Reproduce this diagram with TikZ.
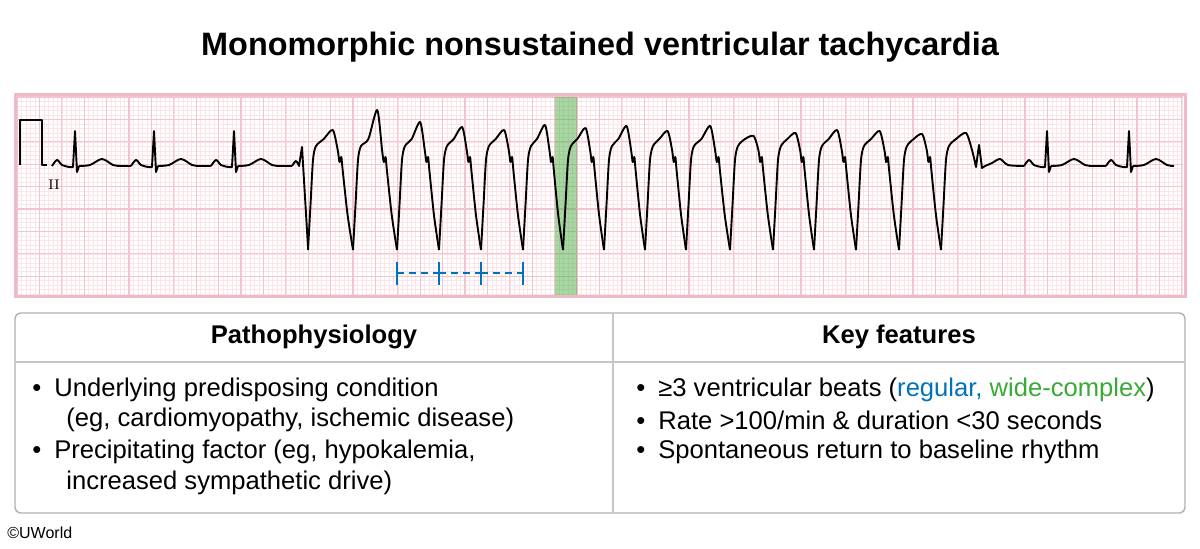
\documentclass[tikz,border=0pt]{standalone}
\usepackage{fontspec}
\setmainfont{Liberation Sans}
\begin{document}
\begin{tikzpicture}[x=0.5pt,y=-0.5pt,
  ecg/.style={black,line width=0.95pt,line join=round},
  minorl/.style={draw={rgb,255:red,252;green,228;blue,233},line width=0.25pt},
  majorl/.style={draw={rgb,255:red,242;green,196;blue,206},line width=0.6pt},
  body/.style={font=\fontsize{12.8}{15}\selectfont,anchor=west,inner sep=0},
  head/.style={font=\bfseries\fontsize{12.8}{15}\selectfont,inner sep=0}]
\definecolor{kblue}{RGB}{0,114,188}
\definecolor{kgreen}{RGB}{57,170,53}
\useasboundingbox[fill=white] (0,0) rectangle (1200,549);
\node[font=\bfseries\fontsize{16.2}{19}\selectfont] (title) at (600,47) {Monomorphic nonsustained ventricular tachycardia};
% grid
\foreach \i in {0,...,260} {\draw[minorl] ({17+4.48*\i},97) -- ({17+4.48*\i},295);}
\foreach \j in {0,...,44} {\draw[minorl] (17,{97+4.48*\j}) -- (1183,{97+4.48*\j});}
\foreach \i in {0,...,52} {\draw[majorl] ({17+22.4*\i},97) -- ({17+22.4*\i},295);}
\foreach \j in {0,...,8} {\draw[majorl] (17,{97+22.4*\j}) -- (1183,{97+22.4*\j});}
\draw[draw={rgb,255:red,238;green,186;blue,198},line width=1.5pt] (15,95) rectangle (1185,297);
% green band
\fill[kgreen,opacity=0.45] (555,97) rectangle (577,295);
% calibration
\draw[ecg] (20,165) -- (20,120) -- (42,120) -- (42,165) -- (47,165);
\node[font=\fontfamily{lmr}\selectfont\fontsize{7}{8}\selectfont,inner sep=0] (lead) at (54,185) {II};
% normal beats
\foreach \r in {75,154,234,1047,1129} {
  \draw[ecg] plot[smooth,tension=0.5] coordinates {({\r-23},166) ({\r-18},160) ({\r-13},165) ({\r-6},167) ({\r-2},167)}
    -- (\r,131) -- ({\r+2},172) -- ({\r+4},166);
  \draw[ecg] plot[smooth,tension=0.5] coordinates {({\r+4},166) ({\r+15},165) ({\r+27},159) ({\r+38},165) ({\r+45},166)};
}
\draw[ecg] (120,166) -- (131,166);
\draw[ecg] (199,166) -- (211,166);
\draw[ecg] (279,166) -- (292,166);
\draw[ecg] (1092,166) -- (1106,166);
\draw[ecg] plot[smooth,tension=0.5] coordinates {(292,166) (296,161) (299,166)} -- (302,147) -- (308,247);
\draw[ecg] (1174,166) -- (1170,166);
% VT
\foreach \a/\b/\p in {308/353/130,353/397/110,397/439/122,439/481/127,481/523/130,523/563/125,563/604/128,604/645/126,645/686/131,686/730/126,730/773/136,773/814/133,814/856/130,856/899/131,899/941/134} {
  \draw[ecg] plot[smooth,tension=0.45] coordinates {(\a,250) ({\a+2.5},205) ({\a+5},160) ({\a+8},146) ({\a+0.35*(\b-\a)},139) ({\a+0.55*(\b-\a)},\p) ({\a+0.66*(\b-\a)},150) ({\a+0.7*(\b-\a)},162) ({\a+0.74*(\b-\a)},157) ({\a+0.77*(\b-\a)},170) ({\a+0.88*(\b-\a)},215) (\b,250)};
}
\draw[ecg] plot[smooth,tension=0.45] coordinates {(941,250) (943.5,205) (946,160) (949,146) (956,139) (966,133) (972,150) (976,167)} -- (979,145) -- (982,168) -- (985,166);
\draw[ecg] plot[smooth,tension=0.5] coordinates {(985,166) (992,163) (1000,159) (1008,165) (1024,166)};
% blue bracket
\foreach \x/\n in {397/t1,439/t2,481/t3,523/t4} {\coordinate (\n) at (\x,273); \draw[kblue,line width=1.3pt] (\x,262) -- (\x,285);}
\draw[kblue,line width=1.3pt,dash pattern=on 3.5pt off 2.5pt] (t1) -- (t2) (t2) -- (t3) (t3) -- (t4);
% table
\draw[gray!60,line width=0.7pt,rounded corners=3pt] (15,313) rectangle (1185,513);
\draw[gray!45,line width=0.6pt] (15,362) -- (1185,362);
\draw[gray!45,line width=0.6pt] (613,313) -- (613,513);
\node[head] (h1) at (314,337) {Pathophysiology};
\node[head] (h2) at (899,337) {Key features};
\node[body] (l1) at (32,390) {•\hspace{6.5pt}Underlying predisposing condition};
\node[body] (l2) at (66,420) {(eg, cardiomyopathy, ischemic disease)};
\node[body] (l3) at (32,452) {•\hspace{6.5pt}Precipitating factor (eg, hypokalemia,};
\node[body] (l4) at (66,483) {increased sympathetic drive)};
\node[body] (r1) at (636,390) {•\hspace{6.5pt}≥3 ventricular beats (\textcolor{kblue}{regular,} \textcolor{kgreen}{wide-complex})};
\node[body] (r2) at (636,420) {•\hspace{6.5pt}Rate >100/min \& duration <30 seconds};
\node[body] (r3) at (636,452) {•\hspace{6.5pt}Spontaneous return to baseline rhythm};
\node[font=\fontsize{8}{10}\selectfont,anchor=west,inner sep=0] (cr) at (7,533) {©UWorld};
\end{tikzpicture}
\end{document}
